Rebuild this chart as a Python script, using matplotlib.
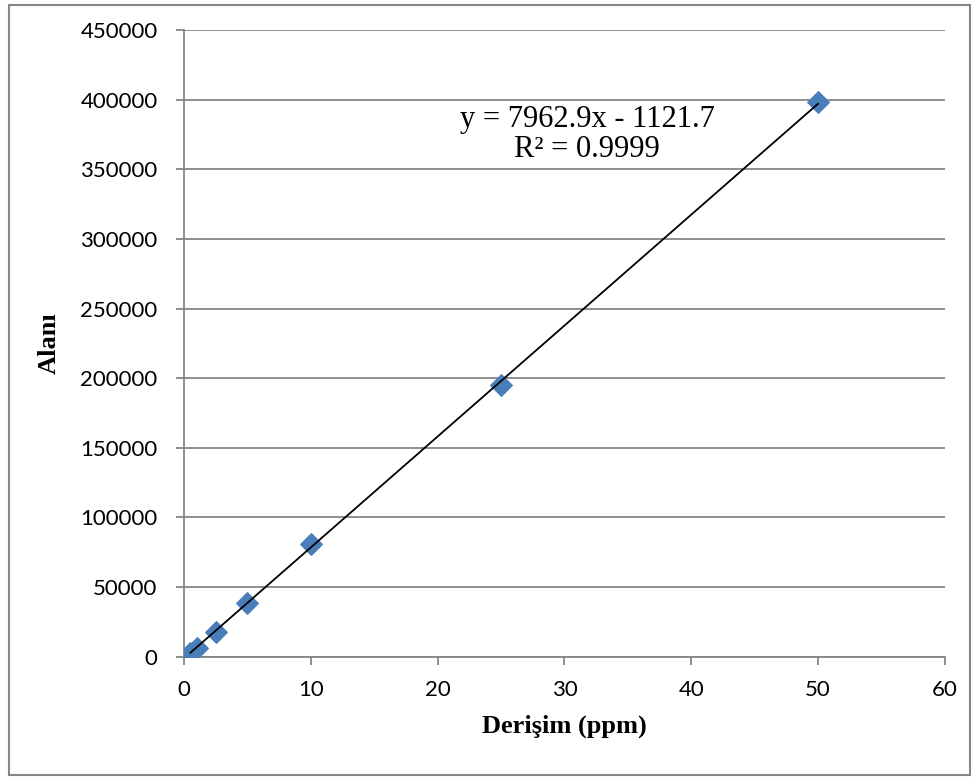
import numpy as np
import matplotlib.pyplot as plt
from matplotlib.patches import Rectangle

# calibration data
conc = [0.5, 1.0, 2.5, 5.0, 10.0, 25.0, 50.0]
area = [2500, 6500, 17900, 38700, 81200, 195200, 398300]

slope = 7962.9
intercept = -1121.7
eq_text = "y = 7962.9x - 1121.7\nR² = 0.9999"

x_ticks = [0, 10, 20, 30, 40, 50, 60]
y_ticks = [0, 50000, 100000, 150000, 200000, 250000, 300000, 350000, 400000, 450000]

fig = plt.figure(figsize=(9.79, 7.8), dpi=100)
ax = fig.add_axes([0.188, 0.158, 0.777, 0.8035])

grid_c = '#868686'
ax.set_xlim(0, 60)
ax.set_ylim(0, 450000)
ax.set_xticks(x_ticks)
ax.set_yticks(y_ticks)
ax.set_yticklabels([str(v) for v in y_ticks])
ax.yaxis.grid(True, color=grid_c, lw=1.3)
ax.set_axisbelow(True)
for s in ['top', 'right']:
    ax.spines[s].set_visible(False)
for s in ['left', 'bottom']:
    ax.spines[s].set_color(grid_c)
    ax.spines[s].set_linewidth(1.3)
ax.tick_params(axis='both', color=grid_c, width=1.3, length=6, labelsize=16)
ax.tick_params(axis='y', pad=13)
ax.tick_params(axis='x', pad=11)
for lab in ax.get_xticklabels() + ax.get_yticklabels():
    lab.set_family('Lato')

ax.scatter(conc, area, marker='D', s=120, color='#4a7ebb', edgecolor='#4a7ebb', zorder=3)

xl = np.array([min(conc), max(conc)])
ax.plot(xl, slope * xl + intercept, color='black', lw=1.3, zorder=4)

ax.text(0.53, 0.88, eq_text, transform=ax.transAxes, ha='center', va='top',
        family='Liberation Serif', fontsize=22, linespacing=1.05)

ax.set_xlabel('Derişim (ppm)', family='Liberation Serif', fontweight='bold', fontsize=19, labelpad=10)
ax.set_ylabel('Alanı', family='Liberation Serif', fontweight='bold', fontsize=19, labelpad=14)

fig.patches.append(Rectangle((0.009, 0.006), 0.982, 0.988, transform=fig.transFigure,
                             fill=False, edgecolor=grid_c, lw=1.5))

fig.savefig('out.png', dpi=100)
